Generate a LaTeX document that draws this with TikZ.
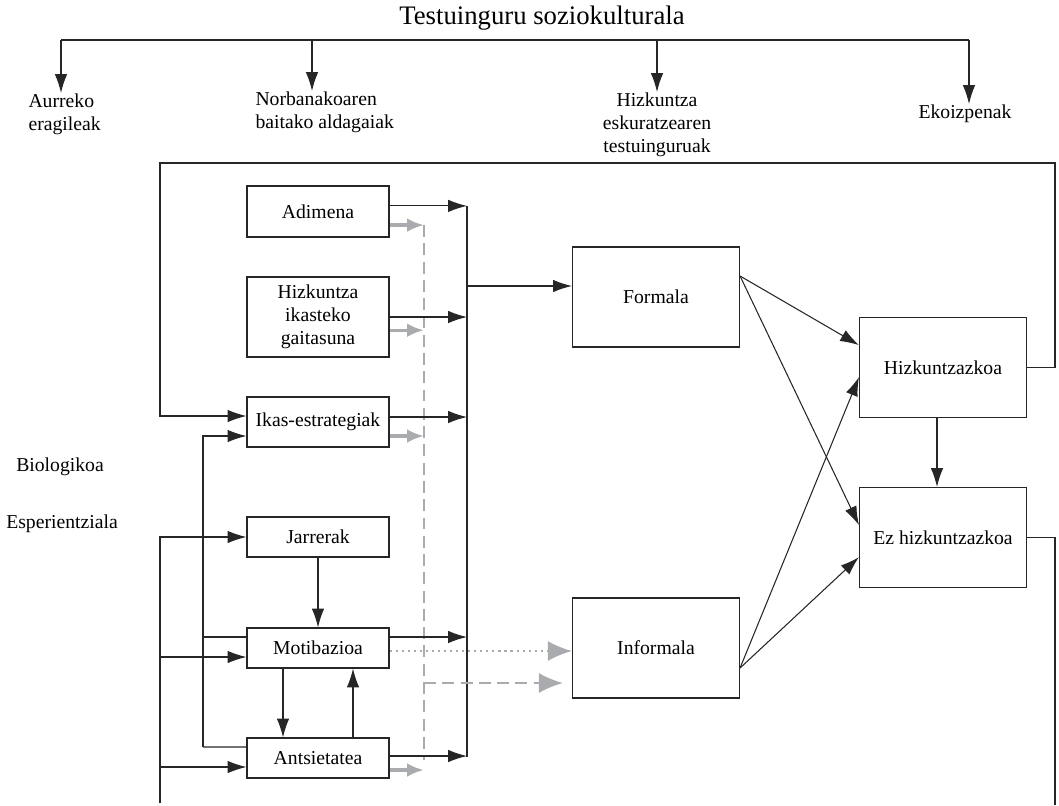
\documentclass[tikz,border=0pt]{standalone}
\usepackage{fontspec}
\setmainfont{Liberation Serif}
\usepackage{tikz}
\usetikzlibrary{arrows.meta}
\definecolor{arrowgray}{RGB}{170,171,175}
\tikzset{my_diagram/.style={x=0.025cm,y=-0.025cm,line width=0.75pt,draw=black!85,>={Latex[length=4.7mm,width=3.1mm]},font=\fontsize{14}{16.5}\selectfont}}
\tikzset{my_box/.style={draw,rectangle,minimum width=3.55cm,inner sep=2pt}}
\tikzset{my_big_box/.style={draw,rectangle,minimum width=4.175cm,minimum height=2.5cm}}
\tikzset{my_label/.style={align=left,inner sep=0pt}}
\tikzset{my_gray_arrow/.style={-{Latex[length=4.2mm,width=3.4mm]},draw=arrowgray,line width=2.4pt}}
\tikzset{my_gray_dashed/.style={draw=arrowgray,line width=1.4pt,dash pattern=on 8.5pt off 4.5pt}}
\tikzset{my_gray_dotted/.style={draw=arrowgray,line width=1.4pt,dash pattern=on 1.5pt off 2.8pt}}
\tikzset{my_gray_tip/.style={-{Latex[length=6mm,width=5mm]}}}

\begin{document}
\begin{tikzpicture}[my_diagram]
    %\draw[help lines] (0,0) grid (1059,805);
    \useasboundingbox (0,0) rectangle (1059,805);

    % top row
    \node[font=\fontsize{19}{22}\selectfont] (title) at (542,18) {Testuinguru soziokulturala};
    \coordinate (top1) at (61,40);
    \coordinate (top2) at (312,40);
    \coordinate (top3) at (657,40);
    \coordinate (top4) at (969,40);
    \node[my_label, anchor=north west] (aurreko) at (28,93) {Aurreko\\eragileak};
    \node[my_label, anchor=north west] (norbanako) at (255,91) {Norbanakoaren\\baitako aldagaiak};
    \node[my_label, align=center, anchor=north] (testuinguru) at (657,92) {Hizkuntza\\eskuratzearen\\testuinguruak};
    \node[my_label, anchor=north] (ekoizpenak) at (965,104) {Ekoizpenak};
    \draw (top1) -- (top4);
    \draw[->] (top1) -- (top1 |- aurreko.north);
    \draw[->] (top2) -- (top2 |- norbanako.north);
    \draw[->] (top3) -- (top3 |- testuinguru.north);
    \draw[->] (top4) -- (top4 |- ekoizpenak.north);

    % left labels
    \node (biologikoa) at (60,467) {Biologikoa};
    \node (esperientziala) at (62,524) {Esperientziala};

    % boxes
    \node[my_box, minimum height=1.275cm] (adimena) at (318,211.5) {Adimena};
    \node[my_box, minimum height=2cm, align=center] (gaitasuna) at (318,317) {Hizkuntza\\ikasteko\\gaitasuna};
    \node[my_box, minimum height=1.25cm] (estrategiak) at (318,422) {Ikas-estrategiak};
    \node[my_box, minimum height=1cm] (jarrerak) at (318,537) {Jarrerak};
    \node[my_box, minimum height=1cm] (motibazioa) at (318,648) {Motibazioa};
    \node[my_box, minimum height=1cm] (antsietatea) at (318,758) {Antsietatea};
    \node[my_big_box] (formala) at (656,297) {Formala};
    \node[my_big_box] (informala) at (656,648) {Informala};
    \node[my_big_box] (hizkuntzazkoa) at (943,367.5) {Hizkuntzazkoa};
    \node[my_big_box] (ezhizkuntzazkoa) at (943,537.5) {Ez hizkuntzazkoa};

    % collectors
    \coordinate (coll_top) at (467,206);
    \coordinate (coll_bot) at (467,757);
    \coordinate (gray_top) at (424,225);
    \coordinate (gray_bot) at (424,760);
    \coordinate (gray_turn) at (424,683);
    \coordinate (informala_in) at ([xshift=-0.225cm]informala.west);
    \draw (coll_top) -- (coll_bot);
    \draw[my_gray_dashed] (gray_top) -- (gray_bot);

    \draw[->] ([yshift=0.14cm]adimena.east) -- ([yshift=0.14cm]adimena.east -| coll_top);
    \draw[->] (gaitasuna.east) -- (gaitasuna.east -| coll_top);
    \draw[->] ([yshift=0.125cm]estrategiak.east) -- ([yshift=0.125cm]estrategiak.east -| coll_top);
    \draw[->] ([yshift=0.275cm]motibazioa.east) -- ([yshift=0.275cm]motibazioa.east -| coll_top);
    \draw[->] ([yshift=0.05cm]antsietatea.east) -- ([yshift=0.05cm]antsietatea.east -| coll_top);

    \draw[my_gray_arrow] ([yshift=-0.34cm]adimena.east) -- ([yshift=-0.34cm]adimena.east -| gray_top);
    \draw[my_gray_arrow] ([yshift=-0.33cm]gaitasuna.east) -- ([yshift=-0.33cm]gaitasuna.east -| gray_top);
    \draw[my_gray_arrow] ([yshift=-0.35cm]estrategiak.east) -- ([yshift=-0.35cm]estrategiak.east -| gray_top);
    \draw[my_gray_arrow] ([yshift=-0.3cm]antsietatea.east) -- ([yshift=-0.3cm]antsietatea.east -| gray_top);

    \draw[->] ([yshift=0.275cm]formala.west -| coll_top) -- ([yshift=0.275cm]formala.west);
    \draw[my_gray_dotted, my_gray_tip] ([yshift=-0.075cm]motibazioa.east) -- ([yshift=-0.075cm]motibazioa.east -| informala.west);
    \draw[my_gray_dashed, my_gray_tip] (gray_turn) -- (gray_turn -| informala_in);

    % contexts to outcomes
    \draw[->] ([yshift=0.525cm]formala.east) -- ([yshift=0.56cm]hizkuntzazkoa.west);
    \draw[->] ([yshift=0.525cm]formala.east) -- ([yshift=0.31cm]ezhizkuntzazkoa.west);
    \draw[->] ([yshift=-0.5cm]informala.east) -- ([yshift=-0.24cm]hizkuntzazkoa.west);
    \draw[->] ([yshift=-0.5cm]informala.east) -- ([yshift=-0.49cm]ezhizkuntzazkoa.west);
    \draw[->] ([xshift=-0.15cm]hizkuntzazkoa.south) -- ([xshift=-0.15cm]ezhizkuntzazkoa.north);

    % feedback
    \coordinate (fb_right) at (1055,163);
    \coordinate (fb_left) at (160,163);
    \coordinate (out_bot) at (1055,805);
    \draw[->] (hizkuntzazkoa.east) -| (fb_right) -- (fb_left) |- ([yshift=0.15cm]estrategiak.west);
    \draw (ezhizkuntzazkoa.east) -| (out_bot);

    % left inputs
    \coordinate (in_bot) at (160,803);
    \coordinate (in_mid) at (203,747);
    \draw[->] (in_bot) |- (jarrerak.west);
    \draw[->] (in_bot) |- ([yshift=-0.225cm]motibazioa.west);
    \draw[->] (in_bot) |- ([yshift=-0.225cm]antsietatea.west);
    \draw[->] (in_mid) |- ([yshift=-0.35cm]estrategiak.west);
    \draw ([yshift=0.275cm]motibazioa.west -| in_mid) -- ([yshift=0.275cm]motibazioa.west);
    \draw (in_mid) -- ([yshift=0.275cm]antsietatea.west);

    % inner links
    \draw[->] (jarrerak) -- (motibazioa);
    \draw[->] ([xshift=-0.875cm]motibazioa.south) -- ([xshift=-0.875cm]antsietatea.north);
    \draw[->] ([xshift=0.875cm]antsietatea.north) -- ([xshift=0.875cm]motibazioa.south);
\end{tikzpicture}
\end{document}
